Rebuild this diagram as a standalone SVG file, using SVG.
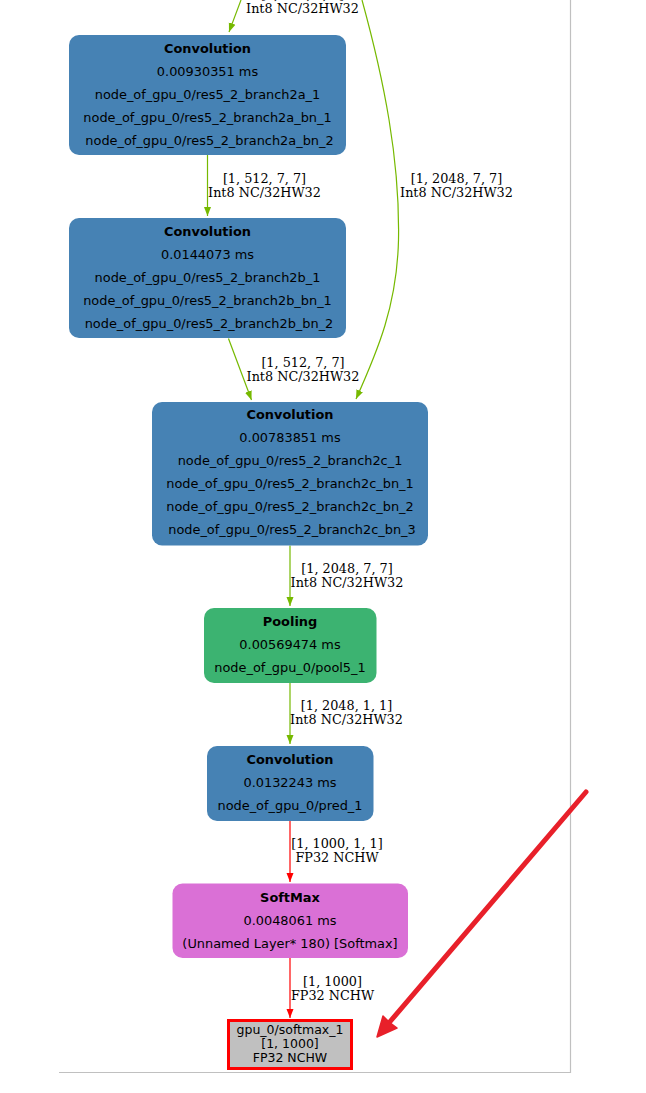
<svg xmlns="http://www.w3.org/2000/svg" width="646" height="1093" viewBox="0 0 646 1093">
<style>
.n text{font-family:"DejaVu Sans",sans-serif;font-size:12.9px;text-anchor:middle;fill:#000}
.n text.b{font-weight:bold}
.conv{fill:#4682b4}
.pool{fill:#3cb371}
.soft{fill:#da70d6}
.lbl{font-family:"DejaVu Serif",serif;font-size:12.8px;text-anchor:middle;fill:#000}
.g{stroke:#76b900;fill:none;stroke-width:1.2}
.r{stroke:#ff0000;fill:none;stroke-width:1.2}
</style>
<defs>
<marker id="ag" markerUnits="userSpaceOnUse" markerWidth="10" markerHeight="10" refX="9" refY="4" orient="auto"><path d="M0,0.5 L9,4 L0,7.5 z" fill="#76b900"/></marker>
<marker id="ar" markerUnits="userSpaceOnUse" markerWidth="10" markerHeight="10" refX="9" refY="4" orient="auto"><path d="M0,0.5 L9,4 L0,7.5 z" fill="#ff0000"/></marker>
</defs>
<rect width="646" height="1093" fill="#fff"/>
<g id="frame" fill="none" stroke="#c0c0c0" stroke-width="1.2">
<path d="M570.5,0 V1072.5 H59"/>
</g>
<g id="connectors">
<path class="g" d="M241,0 L229,32" marker-end="url(#ag)"/>
<path class="g" d="M362,0 C384,80 400,160 398.5,240 C397,305 378,350 356,399" marker-end="url(#ag)"/>
<path class="g" d="M207.5,155 V216" marker-end="url(#ag)"/>
<path class="g" d="M228.5,338.5 L251.5,400" marker-end="url(#ag)"/>
<path class="g" d="M290,545.5 V606" marker-end="url(#ag)"/>
<path class="g" d="M290,683 V744" marker-end="url(#ag)"/>
<path class="r" d="M290,821 V882" marker-end="url(#ar)"/>
<path class="r" d="M290,958 V1018" marker-end="url(#ar)"/>
<text class="lbl" x="302.5" y="-1">[1, 512, 7, 7]</text>
<text class="lbl" x="302.5" y="13">Int8 NC/32HW32</text>
<text class="lbl" x="264.5" y="183">[1, 512, 7, 7]</text>
<text class="lbl" x="264.5" y="197">Int8 NC/32HW32</text>
<text class="lbl" x="456.5" y="183">[1, 2048, 7, 7]</text>
<text class="lbl" x="456.5" y="197">Int8 NC/32HW32</text>
<text class="lbl" x="303" y="367">[1, 512, 7, 7]</text>
<text class="lbl" x="303" y="381">Int8 NC/32HW32</text>
<text class="lbl" x="347" y="573">[1, 2048, 7, 7]</text>
<text class="lbl" x="347" y="587">Int8 NC/32HW32</text>
<text class="lbl" x="346.5" y="710">[1, 2048, 1, 1]</text>
<text class="lbl" x="346.5" y="724">Int8 NC/32HW32</text>
<text class="lbl" x="337" y="848">[1, 1000, 1, 1]</text>
<text class="lbl" x="337" y="862">FP32 NCHW</text>
<text class="lbl" x="332.5" y="986">[1, 1000]</text>
<text class="lbl" x="332.5" y="1000">FP32 NCHW</text>
</g>
<g id="conv_2a" class="n">
<rect class="conv" x="69" y="35" width="277" height="120" rx="10"/>
<text class="b" x="207.5" y="52.5">Convolution</text>
<text x="207.5" y="75.5">0.00930351 ms</text>
<text x="207.5" y="98.5">node_of_gpu_0/res5_2_branch2a_1</text>
<text x="207.5" y="121.5">node_of_gpu_0/res5_2_branch2a_bn_1</text>
<text x="209.5" y="144.5">node_of_gpu_0/res5_2_branch2a_bn_2</text>
</g>
<g id="conv_2b" class="n">
<rect class="conv" x="69" y="218" width="277" height="120" rx="10"/>
<text class="b" x="207.5" y="236">Convolution</text>
<text x="207.5" y="259">0.0144073 ms</text>
<text x="207.5" y="282">node_of_gpu_0/res5_2_branch2b_1</text>
<text x="207.5" y="305">node_of_gpu_0/res5_2_branch2b_bn_1</text>
<text x="209" y="328">node_of_gpu_0/res5_2_branch2b_bn_2</text>
</g>
<g id="conv_2c" class="n">
<rect class="conv" x="152" y="402" width="276" height="143.5" rx="10"/>
<text class="b" x="290" y="419">Convolution</text>
<text x="290" y="442">0.00783851 ms</text>
<text x="290" y="465">node_of_gpu_0/res5_2_branch2c_1</text>
<text x="290" y="488">node_of_gpu_0/res5_2_branch2c_bn_1</text>
<text x="290" y="511">node_of_gpu_0/res5_2_branch2c_bn_2</text>
<text x="292" y="534">node_of_gpu_0/res5_2_branch2c_bn_3</text>
</g>
<g id="pool5" class="n">
<rect class="pool" x="204" y="608" width="172.5" height="75" rx="10"/>
<text class="b" x="290" y="626">Pooling</text>
<text x="290" y="649">0.00569474 ms</text>
<text x="290" y="672">node_of_gpu_0/pool5_1</text>
</g>
<g id="pred" class="n">
<rect class="conv" x="207" y="746" width="166.5" height="75" rx="10"/>
<text class="b" x="290" y="764">Convolution</text>
<text x="290" y="787">0.0132243 ms</text>
<text x="290" y="810">node_of_gpu_0/pred_1</text>
</g>
<g id="softmax" class="n">
<rect class="soft" x="172.5" y="883.5" width="235.5" height="74.5" rx="10"/>
<text class="b" x="290" y="902">SoftMax</text>
<text x="290" y="925">0.0048061 ms</text>
<text x="290" y="948">(Unnamed Layer* 180) [Softmax]</text>
</g>
<g id="output" class="n">
<rect x="228.5" y="1020.5" width="123" height="48" fill="#c0c0c0" stroke="#ff0000" stroke-width="3"/>
<text x="290" y="1034" style="font-size:12.5px">gpu_0/softmax_1</text>
<text x="290" y="1048" style="font-size:12.5px">[1, 1000]</text>
<text x="290" y="1062" style="font-size:12.5px">FP32 NCHW</text>
</g>
<g id="callout">
<line x1="586" y1="792" x2="388" y2="1024" stroke="#e8202a" stroke-width="5" stroke-linecap="round"/>
<polygon points="377,1037 383,1016 389,1022 397,1028" fill="#e8202a" stroke="#e8202a" stroke-width="1.5" stroke-linejoin="round"/>
</g>
</svg>
